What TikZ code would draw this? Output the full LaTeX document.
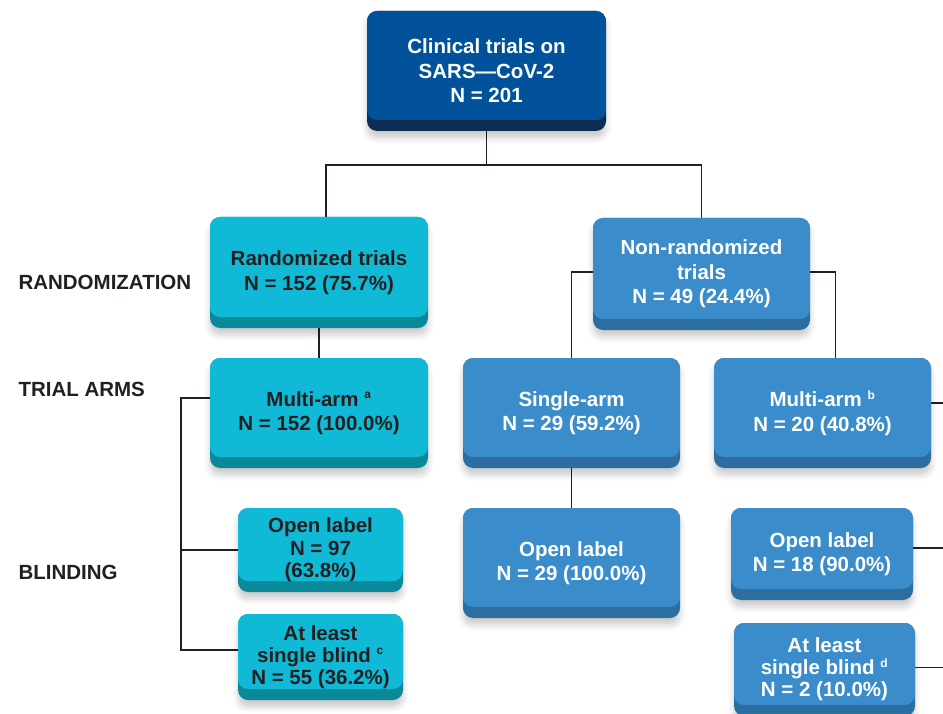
\documentclass[tikz,border=0pt]{standalone}
\usepackage{fontspec}
\setmainfont{Liberation Sans}
\usetikzlibrary{shadows.blur,backgrounds}

\definecolor{topblue}{HTML}{01529B}
\definecolor{topband}{HTML}{0D2E52}
\definecolor{randcyan}{HTML}{10BAD6}
\definecolor{randband}{HTML}{0A8A98}
\definecolor{nonblue}{HTML}{3A8CCB}
\definecolor{nonband}{HTML}{2C6EA0}
\definecolor{inkdark}{HTML}{231F20}

\begin{document}
\begin{tikzpicture}[x=1pt,y=-1pt,
    slab/.style 2 args={rounded corners=10pt, align=center, inner sep=2pt,
      font=\bfseries\fontsize{20.5}{24.5}\selectfont, fill=#2,
      path picture={\fill[#1, rounded corners=10pt]
        (path picture bounding box.north west) rectangle ([yshift=11pt]path picture bounding box.south east);},
      blur shadow={shadow xshift=0pt, shadow yshift=-7pt, shadow opacity=20, shadow blur radius=6pt}},
    topbox/.style={slab={topblue}{topband}, text=white},
    randbox/.style={slab={randcyan}{randband}, text=inkdark},
    nonbox/.style={slab={nonblue}{nonband}, text=white},
    levellab/.style={anchor=west, text=inkdark, font=\bfseries\fontsize{20.5}{24}\selectfont},
    link/.style={draw=inkdark, line width=1.5pt}]
  \useasboundingbox (0,0) rectangle (943,714);

  % level labels
  \node[levellab] (lrand) at (15,282) {RANDOMIZATION};
  \node[levellab] (larms) at (15,389) {TRIAL ARMS};
  \node[levellab] (lblind) at (15,572) {BLINDING};

  % top
  \node[topbox, minimum width=239pt, minimum height=120pt] (all) at (486.5,71)
    {Clinical trials on\\SARS—CoV-2\\N = 201};

  % randomized branch
  \node[randbox, minimum width=218pt, minimum height=111pt] (rand) at (319,272.5)
    {Randomized trials\\N = 152 (75.7\%)};
  \node[randbox, minimum width=218pt, minimum height=110pt] (multia) at (319,413)
    {Multi-arm \textsuperscript{\fontsize{12}{12}\selectfont a}\\N = 152 (100.0\%)};
  \node[randbox, minimum width=165pt, minimum height=84pt,
        font=\bfseries\fontsize{20.5}{22.5}\selectfont] (openl) at (320.5,550)
    {Open label\\N = 97\\(63.8\%)};
  \node[randbox, minimum width=165pt, minimum height=86pt,
        font=\bfseries\fontsize{20.5}{22}\selectfont] (blindl) at (320.5,657)
    {At least\\single blind \textsuperscript{\fontsize{12}{12}\selectfont c}\\N = 55 (36.2\%)};

  % non-randomized branch
  \node[nonbox, minimum width=217pt, minimum height=112pt] (nonrand) at (701.5,274)
    {Non-randomized\\trials\\N = 49 (24.4\%)};
  \node[nonbox, minimum width=217pt, minimum height=110pt] (single) at (571.5,413)
    {Single-arm\\N = 29 (59.2\%)};
  \node[nonbox, minimum width=217pt, minimum height=110pt] (multib) at (822.5,413)
    {Multi-arm \textsuperscript{\fontsize{12}{12}\selectfont b}\\N = 20 (40.8\%)};
  \node[nonbox, minimum width=217pt, minimum height=110pt] (openm) at (571.5,563)
    {Open label\\N = 29 (100.0\%)};
  \node[nonbox, minimum width=182pt, minimum height=92pt] (openr) at (822,554)
    {Open label\\N = 18 (90.0\%)};
  \node[nonbox, minimum width=181pt, minimum height=93pt,
        font=\bfseries\fontsize{20.5}{22}\selectfont] (blindr) at (824.5,669.5)
    {At least\\single blind \textsuperscript{\fontsize{12}{12}\selectfont d}\\N = 2 (10.0\%)};

  \coordinate (split) at (486.5,165);
  \coordinate (edge) at (943,0);

  \begin{scope}[on background layer]
    \draw[link] (all.south) -- (split);
    \draw[link] ([xshift=7pt]rand.north) |- (split) -| (nonrand.north);
    \draw[link] (rand.south) -- (multia.north);
    \draw[link] ([yshift=15pt]multia.west) -- ++(-29,0) coordinate (lbus)
      |- ([yshift=7pt]blindl.west);
    \draw[link] (openl.west) -| (lbus);
    \draw[link] ([yshift=2pt]nonrand.west) -| (single.north);
    \draw[link] ([yshift=2pt]nonrand.east) -| ([xshift=13pt]multib.north);
    \draw[link] (single.south) -- (openm.north);
    \draw[link] ([yshift=10pt]multib.east) -- ([yshift=10pt]multib.east -| edge);
    \draw[link] ([yshift=6pt]openr.east) -- ([yshift=6pt]openr.east -| edge);
    \draw[link] ([yshift=2pt]blindr.east) -- ([yshift=2pt]blindr.east -| edge);
  \end{scope}
\end{tikzpicture}
\end{document}
